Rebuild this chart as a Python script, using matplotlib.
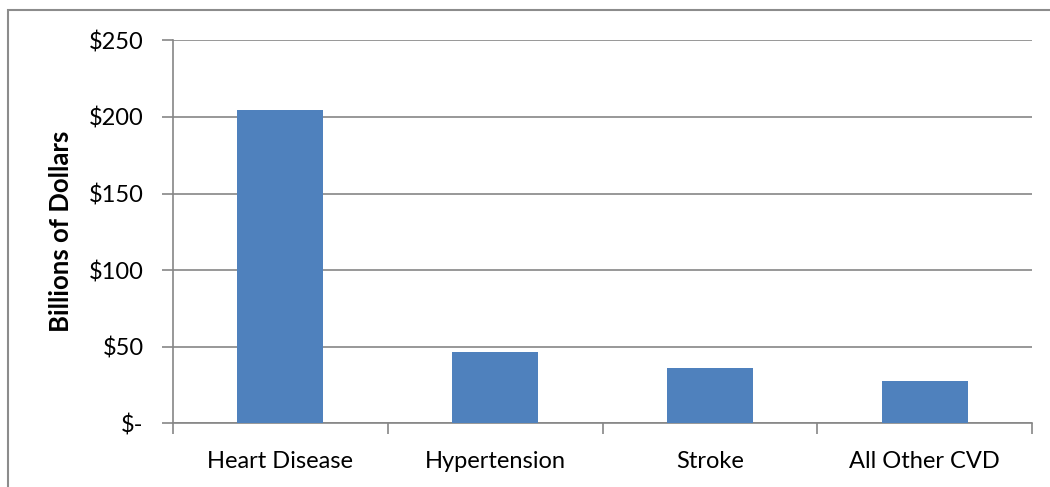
import matplotlib.pyplot as plt
from matplotlib.patches import Rectangle
import numpy as np

categories = ["Heart Disease", "Hypertension", "Stroke", "All Other CVD"]
costs = [204.5, 46.3, 36.3, 27.6]
yticks = [0, 50, 100, 150, 200, 250]
ytick_labels = ["$-", "$50", "$100", "$150", "$200", "$250"]

W, H = 1050, 487
plt.rcParams['font.family'] = ['Lato', 'DejaVu Sans']

fig = plt.figure(figsize=(W / 100, H / 100), dpi=100)
ax = fig.add_axes([173 / W, 1 - 423.3 / H, (1032 - 173) / W, (423.3 - 40.3) / H])

grid_c = '#868686'
x = np.arange(len(categories))
ax.bar(x, costs, width=0.40, color='#4F81BD', zorder=3)

ax.set_xlim(-0.5, len(categories) - 0.5)
ax.set_ylim(0, 250)
ax.set_yticks(yticks)
ax.set_yticklabels(ytick_labels, fontsize=17)
ax.yaxis.grid(True, color=grid_c, linewidth=1.2, zorder=0)

# category labels between boundary ticks
ax.set_xticks(np.arange(-0.5, len(categories), 1.0))
ax.set_xticklabels([])
ax.set_xticks(x, minor=True)
ax.set_xticklabels(categories, minor=True, fontsize=17)
ax.tick_params(axis='x', which='major', length=8, color=grid_c, width=1.2, direction='out')
ax.tick_params(axis='x', which='minor', length=0, pad=20)
ax.tick_params(axis='y', length=8, color=grid_c, width=1.2, pad=13)

for s in ['top', 'right']:
    ax.spines[s].set_visible(False)
for s in ['left', 'bottom']:
    ax.spines[s].set_color(grid_c)
    ax.spines[s].set_linewidth(1.2)

ax.set_ylabel("Billions of Dollars", fontsize=18.5, fontweight='bold')
ax.yaxis.set_label_coords((73 - 173) / (1032 - 173), 0.5)

# outer chart border (top and left visible)
fig.patches.append(Rectangle((8 / W, -0.1), 1.2, 1 - 10 / H + 0.1, transform=fig.transFigure,
                             fill=False, edgecolor='#8c8c8c', linewidth=1.5))

fig.savefig("out.png", dpi=100)
